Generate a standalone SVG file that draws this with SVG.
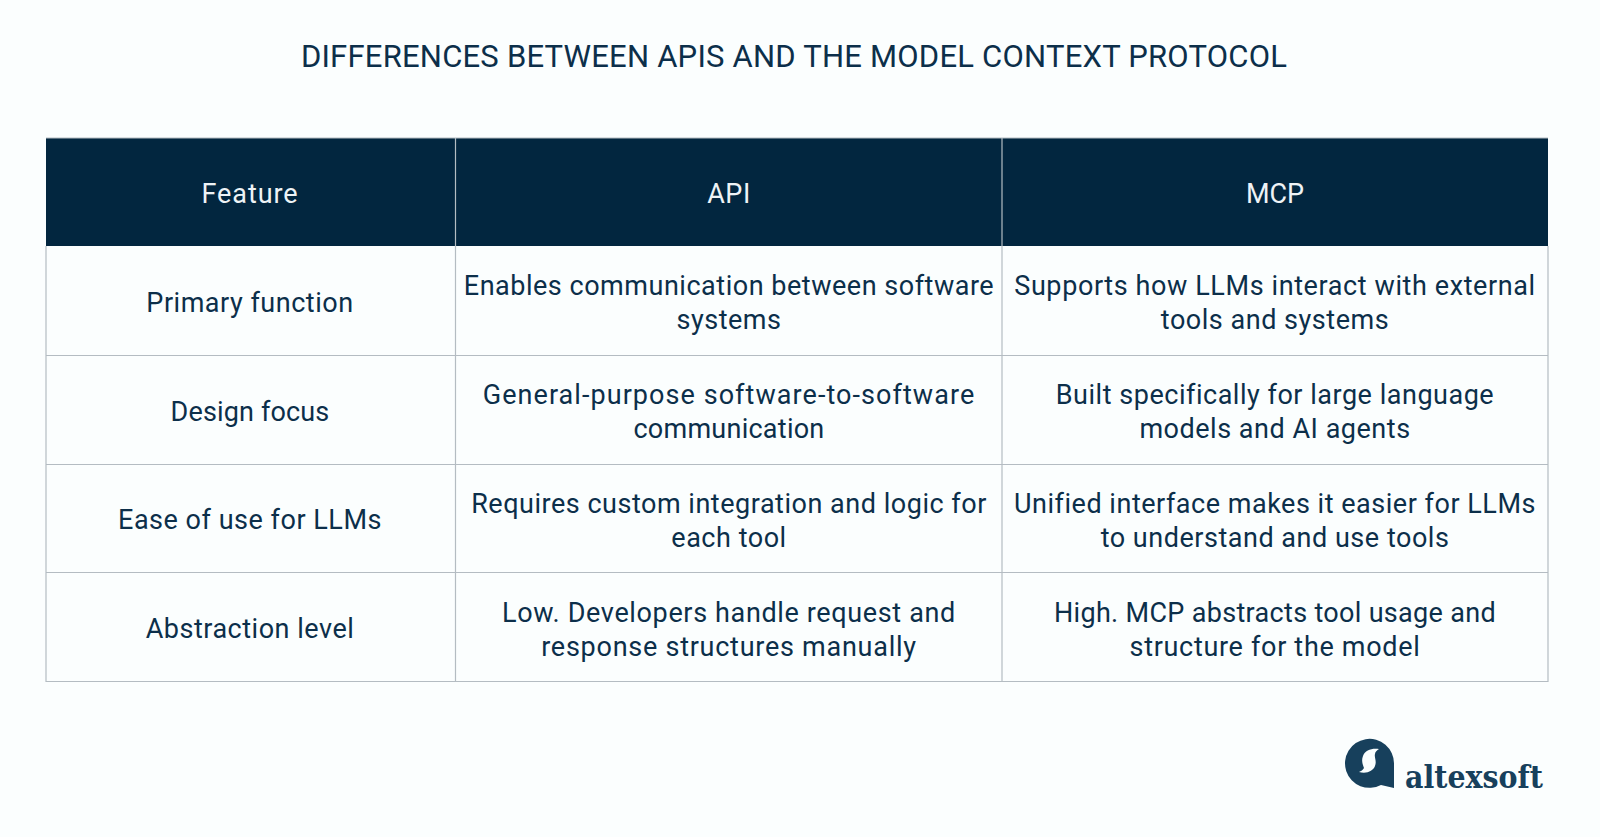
<svg xmlns="http://www.w3.org/2000/svg" width="1600" height="837" viewBox="0 0 1600 837">
<style>
text{font-family:Roboto,"Liberation Sans",sans-serif;text-anchor:middle;fill:#0c2f4a;font-size:27px;letter-spacing:.52px}
.h{fill:#eef3f6}
.l{stroke:#b4bcc2;stroke-width:1.2;fill:none}
</style>
<rect width="1600" height="837" fill="#fbfefe"/>
<text x="794" y="67" style="font-size:31px;letter-spacing:.22px">DIFFERENCES BETWEEN APIS AND THE MODEL CONTEXT PROTOCOL</text>
<g id="table">
<rect x="46" y="138" width="1502" height="108" fill="#02263f"/>
<path class="l" d="M46 246V681.500H1548V246M46 355.500H1548M46 464.500H1548M46 572.500H1548M455.500 138V681.500M1002 138V681.500M46 138H1548"/>
</g>
<g id="header"><text class="h" x="250" y="203" style="letter-spacing:.9px">Feature</text><text class="h" x="729" y="203">API</text><text class="h" x="1275" y="203" style="letter-spacing:0">MCP</text></g>
<g id="row1"><text x="250" y="312">Primary function</text><text x="729" y="295">Enables communication between software</text><text x="729" y="329">systems</text><text x="1275" y="295" style="letter-spacing:.6px">Supports how LLMs interact with external</text><text x="1275" y="329">tools and systems</text></g>
<g id="row2"><text x="250" y="421" style="letter-spacing:.15px">Design focus</text><text x="729" y="404" style="letter-spacing:1.06px">General-purpose software-to-software</text><text x="729" y="438" style="letter-spacing:.25px">communication</text><text x="1275" y="404">Built specifically for large language</text><text x="1275" y="438">models and AI agents</text></g>
<g id="row3"><text x="250" y="529">Ease of use for LLMs</text><text x="729" y="513">Requires custom integration and logic for</text><text x="729" y="547">each tool</text><text x="1275" y="513">Unified interface makes it easier for LLMs</text><text x="1275" y="547">to understand and use tools</text></g>
<g id="row4"><text x="250" y="638">Abstraction level</text><text x="729" y="622" style="letter-spacing:.64px">Low. Developers handle request and</text><text x="729" y="656" style="letter-spacing:.74px">response structures manually</text><text x="1275" y="622" style="letter-spacing:.32px">High. MCP abstracts tool usage and</text><text x="1275" y="656" style="letter-spacing:.69px">structure for the model</text></g>
<g id="logo"><path d="M1394 788l-13-3a24.500 24.500 0 1 1 13-21.500z" fill="#17405c"/><path d="M1379 749c-7-1-14 1-16 7-2 5 0 9 1 12-1 2-3 3-5 4 8 2 14-1 16-6 2-5-1-9 0-12 0-2 2-4 4-5z" fill="#fbfefe"/><text x="1474" y="788" style="font-family:'DejaVu Serif',serif;font-size:31px;font-weight:700;fill:#17405c;letter-spacing:0" textLength="138" lengthAdjust="spacingAndGlyphs">altexsoft</text></g>
</svg>
